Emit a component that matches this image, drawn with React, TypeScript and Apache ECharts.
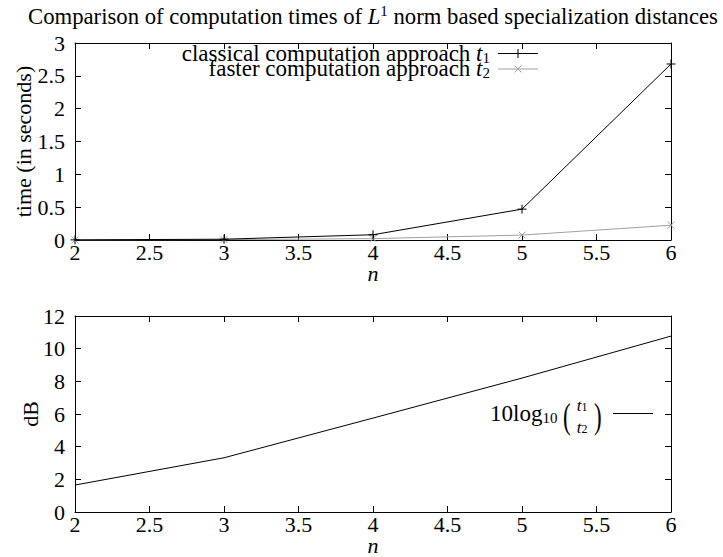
import React, { useEffect, useRef } from "react";
import * as echarts from "echarts";

const nValues = [2, 3, 4, 5, 6];
const t1Values = [0.002, 0.012, 0.08, 0.47, 2.68];
const t2Values = [0.0014, 0.0056, 0.021, 0.075, 0.225];
const dbValues = [1.65, 3.32, 5.75, 8.2, 10.77];

const xTicks = [2, 2.5, 3, 3.5, 4, 4.5, 5, 5.5, 6];
const timeTicks = [0, 0.5, 1, 1.5, 2, 2.5, 3];
const dbTicks = [0, 2, 4, 6, 8, 10, 12];

const titleText = "Comparison of computation times of ";
const titleText2 = " norm based specialization distances";
const legend1 = "classical computation approach ";
const legend2 = "faster computation approach ";

const FONT = "Liberation Serif";
const GRAY = "#a0a0a0";

function mkAxis(extra: any, ticks: number[]) {
  return {
    type: "value",
    min: ticks[0],
    max: ticks[ticks.length - 1],
    interval: ticks[1] - ticks[0],
    axisLine: { show: true, onZero: false, lineStyle: { color: "#000", width: 1 } },
    axisTick: { show: true, inside: true, length: 6, lineStyle: { color: "#000", width: 1 } },
    axisLabel: { show: false },
    splitLine: { show: false },
    ...extra,
  };
}

function txt(x: number, y: number, text: string, align: string, vAlign: string, extra: any = {}, tok: any = {}) {
  return {
    type: "text",
    x,
    y,
    ...extra,
    style: {
      text: `{t|${text}}`,
      x: 0,
      y: 0,
      fill: "#000",
      align,
      verticalAlign: vAlign,
      textAlign: align,
      textVerticalAlign: vAlign,
      rich: { t: { fontSize: 22, fontFamily: FONT, fill: "#000", lineHeight: 18, ...tok } },
    },
  };
}

export default function App() {
  const ref = useRef<HTMLDivElement>(null);
  useEffect(() => {
    document.body.style.margin = "0";
    const chart = echarts.init(ref.current!, null, { renderer: "svg" });
    const pairs = (ys: number[]) => nValues.map((n, i) => [n, ys[i]]);
    const option: any = {
      animation: false,
      backgroundColor: "#fff",
      textStyle: { fontFamily: FONT, fontSize: 22 },
      grid: [
        { left: 75, right: 52, top: 43, height: 197 },
        { left: 75, right: 52, top: 316, height: 196 },
      ],
      xAxis: [
        mkAxis({ gridIndex: 0, position: "bottom" }, xTicks),
        mkAxis({ gridIndex: 0, position: "top" }, xTicks),
        mkAxis({ gridIndex: 1, position: "bottom" }, xTicks),
        mkAxis({ gridIndex: 1, position: "top" }, xTicks),
      ],
      yAxis: [
        mkAxis({ gridIndex: 0, position: "left" }, timeTicks),
        mkAxis({ gridIndex: 0, position: "right" }, timeTicks),
        mkAxis({ gridIndex: 1, position: "left" }, dbTicks),
        mkAxis({ gridIndex: 1, position: "right" }, dbTicks),
      ],
      series: [
        {
          type: "line",
          xAxisIndex: 0,
          yAxisIndex: 0,
          data: pairs(t2Values),
          symbol: "path://M-1,-1L1,1M-1,1L1,-1",
          symbolSize: 7,
          lineStyle: { color: GRAY, width: 1 },
          itemStyle: { color: GRAY, borderColor: GRAY, borderWidth: 1 },
          z: 2,
        },
        {
          type: "line",
          xAxisIndex: 0,
          yAxisIndex: 0,
          data: pairs(t1Values),
          symbol: "path://M0,-1L0,1M-1,0L1,0",
          symbolSize: 9,
          lineStyle: { color: "#000", width: 1 },
          itemStyle: { color: "#000", borderColor: "#000", borderWidth: 1 },
          z: 3,
        },
        {
          type: "line",
          xAxisIndex: 2,
          yAxisIndex: 2,
          data: pairs(dbValues),
          showSymbol: false,
          symbol: "none",
          lineStyle: { color: "#000", width: 1 },
        },
      ],
    };
    chart.setOption(option);

    const px = (axis: number, v: number) => chart.convertToPixel({ xAxisIndex: axis } as any, v) as number;
    const py = (axis: number, v: number) => chart.convertToPixel({ yAxisIndex: axis } as any, v) as number;

    const g: any[] = [];
    [
      { xa: 0, ya: 0, yTicks: timeTicks },
      { xa: 2, ya: 2, yTicks: dbTicks },
    ].forEach(({ xa, ya, yTicks }) => {
      const baseY = py(ya, yTicks[0]);
      const leftX = px(xa, xTicks[0]);
      xTicks.forEach((v) => g.push(txt(px(xa, v), baseY + 12, String(v), "center", "middle")));
      yTicks.forEach((v) => g.push(txt(leftX - 10, py(ya, v), String(v), "right", "middle")));
      const midX = (px(xa, xTicks[0]) + px(xa, xTicks[xTicks.length - 1])) / 2;
      g.push(txt(midX, baseY + 33, "n", "center", "middle", {}, { fontStyle: "italic", lineHeight: 14 }));
    });
    const topMid = (py(0, timeTicks[0]) + py(0, timeTicks[timeTicks.length - 1])) / 2;
    const botMid = (py(2, dbTicks[0]) + py(2, dbTicks[dbTicks.length - 1])) / 2;
    g.push(txt(23, topMid, "time (in seconds)", "center", "middle", { rotation: Math.PI / 2 }));
    g.push(txt(30, botMid, "dB", "center", "middle", { rotation: Math.PI / 2 }));

    g.push({
      type: "text",
      x: 373,
      y: 16,
      style: {
        text: `{a|${titleText}}{i|L}{s|1}{a|${titleText2}}`,
        align: "center",
        verticalAlign: "middle",
        textAlign: "center",
        textVerticalAlign: "middle",
        fill: "#000",
        rich: {
          a: { fontSize: 22.7, fontFamily: FONT, lineHeight: 26, fill: "#000" },
          i: { fontSize: 22.7, fontFamily: FONT, fontStyle: "italic", lineHeight: 26, fill: "#000" },
          s: { fontSize: 15, fontFamily: FONT, lineHeight: 16, verticalAlign: "top", fill: "#000" },
        },
      },
    });
    const legendRich = {
      a: { fontSize: 23, fontFamily: FONT, lineHeight: 24, fill: "#000" },
      i: { fontSize: 23, fontFamily: FONT, fontStyle: "italic", lineHeight: 24, fill: "#000" },
      s: { fontSize: 15, fontFamily: FONT, lineHeight: 15, verticalAlign: "bottom", fill: "#000" },
    };
    g.push({
      type: "text",
      x: 490,
      y: 53,
      style: { text: `{a|${legend1}}{i|t}{s|1}`, align: "right", verticalAlign: "middle", textAlign: "right", textVerticalAlign: "middle", fill: "#000", rich: legendRich },
    });
    g.push({
      type: "text",
      x: 490,
      y: 68,
      style: { text: `{a|${legend2}}{i|t}{s|2}`, align: "right", verticalAlign: "middle", textAlign: "right", textVerticalAlign: "middle", fill: "#000", rich: legendRich },
    });
    g.push(
      { type: "line", shape: { x1: 498, y1: 53.5, x2: 538, y2: 53.5 }, style: { stroke: "#000", lineWidth: 1 } },
      { type: "line", shape: { x1: 518, y1: 49, x2: 518, y2: 58 }, style: { stroke: "#000", lineWidth: 1 } },
      { type: "line", shape: { x1: 498, y1: 69, x2: 538, y2: 69 }, style: { stroke: GRAY, lineWidth: 1 } },
      { type: "line", shape: { x1: 514.5, y1: 65.5, x2: 521.5, y2: 72.5 }, style: { stroke: GRAY, lineWidth: 1 } },
      { type: "line", shape: { x1: 514.5, y1: 72.5, x2: 521.5, y2: 65.5 }, style: { stroke: GRAY, lineWidth: 1 } }
    );
    g.push({
      type: "text",
      x: 490,
      y: 413,
      style: {
        text: "{a|10log}{s|10}",
        align: "left",
        verticalAlign: "middle",
        textAlign: "left",
        textVerticalAlign: "middle",
        fill: "#000",
        rich: {
          a: { fontSize: 23, fontFamily: FONT, lineHeight: 24, fill: "#000" },
          s: { fontSize: 15, fontFamily: FONT, lineHeight: 15, verticalAlign: "bottom", fill: "#000" },
        },
      },
    });
    g.push(txt(563, 416, "(", "left", "middle", { scaleY: 1.6 }, { fontSize: 23 }));
    g.push(txt(594, 416, ")", "left", "middle", { scaleY: 1.6 }, { fontSize: 23 }));
    const fracRich = {
      i: { fontSize: 17, fontFamily: FONT, fontStyle: "italic", lineHeight: 16, fill: "#000" },
      s: { fontSize: 12, fontFamily: FONT, lineHeight: 11, verticalAlign: "bottom", fill: "#000" },
    };
    g.push({
      type: "text",
      x: 582,
      y: 405,
      style: { text: "{i|t}{s|1}", align: "center", verticalAlign: "middle", textAlign: "center", textVerticalAlign: "middle", fill: "#000", rich: fracRich },
    });
    g.push({
      type: "text",
      x: 582,
      y: 427,
      style: { text: "{i|t}{s|2}", align: "center", verticalAlign: "middle", textAlign: "center", textVerticalAlign: "middle", fill: "#000", rich: fracRich },
    });
    g.push({ type: "line", shape: { x1: 613, y1: 413.5, x2: 653, y2: 413.5 }, style: { stroke: "#000", lineWidth: 1 } });

    chart.setOption({ graphic: g });
    return () => chart.dispose();
  }, []);
  return <div ref={ref} style={{ width: 723, height: 557 }} />;
}
